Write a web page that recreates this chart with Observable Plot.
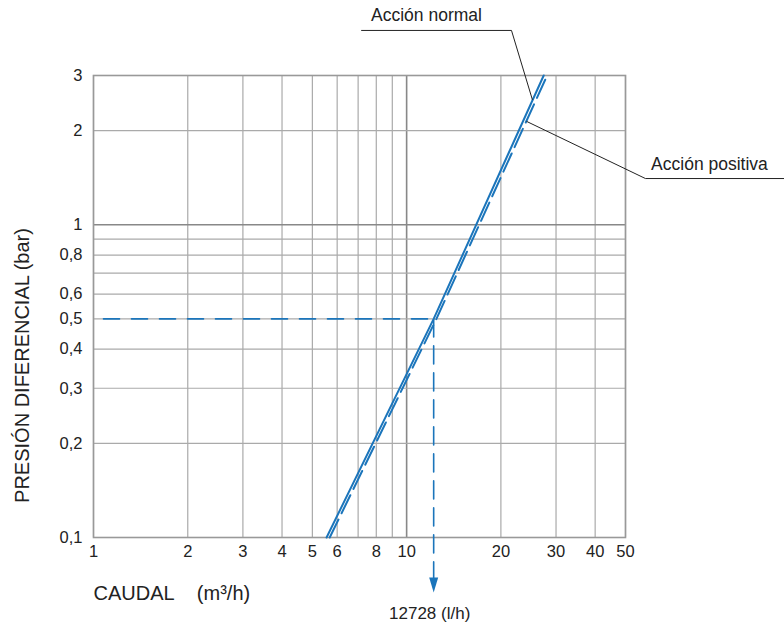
<!DOCTYPE html>
<html>
<head>
<meta charset="utf-8">
<script src="https://cdn.jsdelivr.net/npm/d3@7"></script>
<script src="https://cdn.jsdelivr.net/npm/@observablehq/plot@0.6"></script>
<style>
  html, body { margin: 0; padding: 0; background: #fff; }
  #chart svg { display: block; }
</style>
</head>
<body>
<div id="chart"></div>
<script>
// ---- data ----
const xTicks = [1, 2, 3, 4, 5, 6, 8, 10, 20, 30, 40, 50];
const xGrid = [1, 2, 3, 4, 5, 6, 7, 8, 9, 20, 30, 40, 50];
const xMajor = [10];
const yTicks = [0.1, 0.2, 0.3, 0.4, 0.5, 0.6, 0.8, 1, 2, 3];
const yGrid = [0.1, 0.2, 0.3, 0.4, 0.5, 0.6, 0.7, 0.8, 0.9, 2, 3];
const yMajor = [1];

// Acción normal (solid)
const normalQ = [5.55, 12.2, 27.4];
const normalP = [0.1, 0.5, 3];
// Acción positiva (dashed)
const positivaQ = [5.68, 12.45, 28.1];
const positivaP = [0.1, 0.5, 3];

// operating point
const opQ = 12.2;       // m3/h
const opP = 0.5;        // bar
const opLabel = "12728 (l/h)";
const arrowTipP = 0.0667;
const arrowEndP = 0.072;
const opLabelP = 0.0571;

// annotation anchors (data units)
const normalLabel = {q: 11.57, p: 4.67, text: "Acción normal"};
const normalLeader = [{q: 7.18, p: 4.18}, {q: 21.62, p: 4.18}, {q: 25.2, p: 2.515}];
const positivaLabel = {q: 92.7, p: 1.558, text: "Acción positiva"};
const positivaLeader = [{q: 161, p: 1.405}, {q: 57.9, p: 1.405}, {q: 24.2, p: 2.138}];

const blue = "#1b75bb";
const fmt = d => String(d).replace(".", ",");
const toRows = (qs, ps) => qs.map((q, i) => ({q, p: ps[i]}));

const arrowHead = {
  draw(ctx) {
    ctx.moveTo(0, 0);
    ctx.lineTo(-4.5, -15);
    ctx.lineTo(4.5, -15);
    ctx.closePath();
  }
};

const plot = Plot.plot({
  width: 784,
  height: 626,
  marginLeft: 93,
  marginRight: 159,
  marginTop: 75,
  marginBottom: 89,
  style: {fontFamily: "'Liberation Sans', Arial, sans-serif", background: "#fff", color: "#222"},
  x: {type: "log", domain: [1, 50], axis: null},
  y: {type: "log", domain: [0.1, 3], axis: null},
  marks: [
    Plot.ruleX(xGrid, {stroke: "#aaa", strokeWidth: 1.2}),
    Plot.ruleX(xMajor, {stroke: "#888", strokeWidth: 1.6}),
    Plot.ruleY(yGrid, {stroke: "#aaa", strokeWidth: 1.2}),
    Plot.ruleY(yMajor, {stroke: "#888", strokeWidth: 1.6}),
    Plot.frame({stroke: "#999", strokeWidth: 1.6}),
    // tick labels
    Plot.text(xTicks, {x: d => d, text: d => String(d), frameAnchor: "bottom", dy: 19, fontSize: 16.5, fill: "#222"}),
    Plot.text(yTicks, {y: d => d, text: fmt, frameAnchor: "left", dx: -11, textAnchor: "end", fontSize: 16.5, fill: "#222"}),
    // reference dashed lines
    Plot.line([{q: 1, p: opP}, {q: opQ * 1.03, p: opP}], {x: "q", y: "p", stroke: blue, strokeWidth: 1.6, strokeDasharray: "16,12", strokeDashoffset: 18}),
    Plot.line([{q: opQ, p: opP}, {q: opQ, p: arrowEndP}], {x: "q", y: "p", stroke: blue, strokeWidth: 1.6, strokeDasharray: "18,9"}),
    Plot.dot([{q: opQ, p: arrowTipP}], {x: "q", y: "p", symbol: arrowHead, fill: blue, stroke: "none", r: 5}),
    Plot.text([{q: opQ, p: opLabelP, text: opLabel}], {x: "q", y: "p", text: "text", fontSize: 17, dx: -4, fill: "#222"}),
    // curves
    Plot.line(toRows(positivaQ, positivaP), {x: "q", y: "p", stroke: blue, strokeWidth: 2, strokeDasharray: "20,7"}),
    Plot.line(toRows(normalQ, normalP), {x: "q", y: "p", stroke: blue, strokeWidth: 2}),
    // annotations
    Plot.line(normalLeader, {x: "q", y: "p", stroke: "#222", strokeWidth: 1}),
    Plot.line(positivaLeader, {x: "q", y: "p", stroke: "#222", strokeWidth: 1}),
    Plot.text([normalLabel], {x: "q", y: "p", text: "text", fontSize: 17.5, fill: "#222"}),
    Plot.text([positivaLabel], {x: "q", y: "p", text: "text", fontSize: 17.5, fill: "#222"}),
    // axis titles
    Plot.text(["PRESIÓN DIFERENCIAL (bar)"], {text: d => d, frameAnchor: "left", dx: -71, dy: 59, rotate: -90, fontSize: 20, textAnchor: "middle", fill: "#222"}),
    Plot.text(["CAUDAL\u00a0\u00a0\u00a0\u00a0(m³/h)"], {text: d => d, frameAnchor: "bottom-left", textAnchor: "start", dy: 62, fontSize: 20, fill: "#222"})
  ]
});
document.getElementById("chart").append(plot);
</script>
</body>
</html>
